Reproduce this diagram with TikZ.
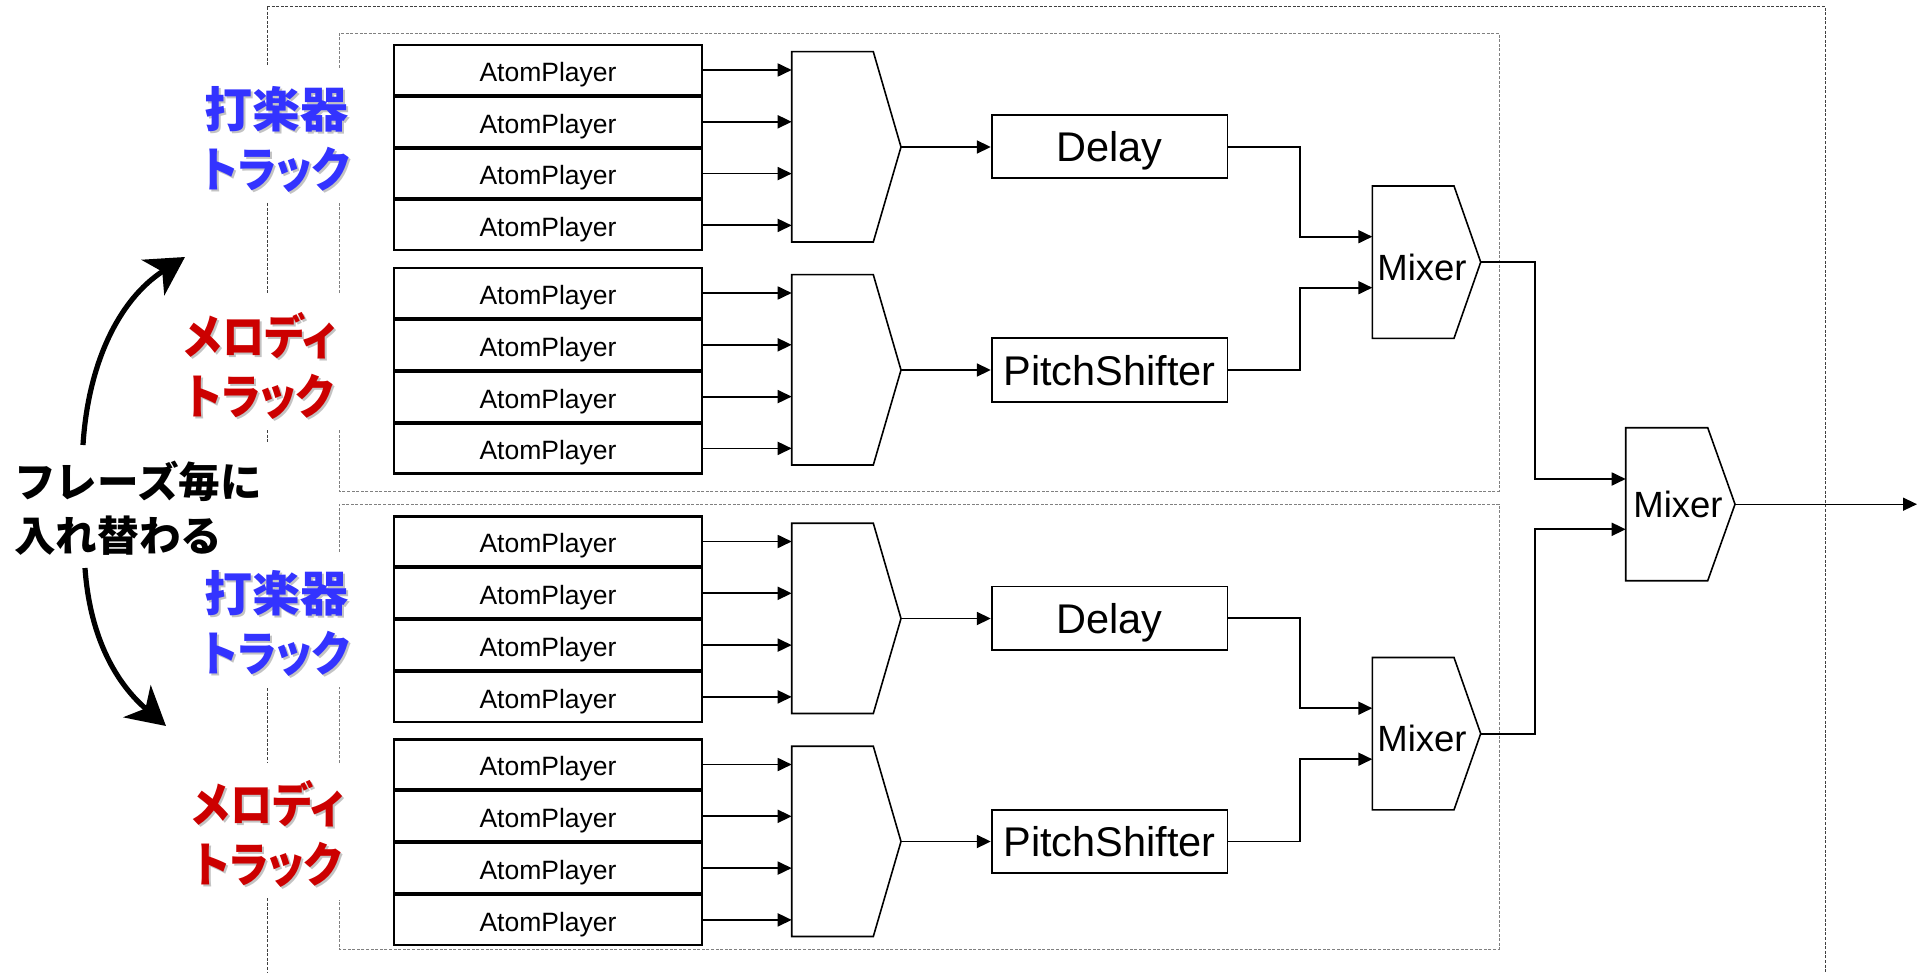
\documentclass[tikz,border=0pt]{standalone}
\usepackage{graphicx}
\usepackage{fontspec}
\setmainfont{Liberation Sans}
\newfontfamily\jp{Noto Sans CJK JP}[RawFeature=+palt]
\newfontfamily\jpw{Noto Sans CJK JP}
\usetikzlibrary{arrows.meta}
\definecolor{jblue}{RGB}{51,51,255}
\definecolor{jred}{RGB}{204,0,0}
\definecolor{jshadow}{RGB}{195,195,195}
\newcommand\kn[1]{\scalebox{0.88}[1]{#1}}
\tikzset{
 ap/.style={draw, line width=1.1pt, minimum width=154pt, minimum height=25pt, inner sep=0pt, text depth=0pt, text height=11.4pt, font=\fontsize{13.25}{15}\selectfont},
 fx/.style={draw, line width=0.9pt, minimum width=117.9pt, minimum height=31.7pt, inner sep=0pt, text depth=0pt, font=\fontsize{20.75}{24}\selectfont},
 mxt/.style={inner sep=0pt, text depth=0pt, font=\fontsize{18.25}{22}\selectfont},
 conn/.style={line width=0.9pt, -{Triangle[length=7pt,width=6.5pt]}},
 mshape/.style={line width=0.8pt, line join=miter},
 dotA/.style={black!75, line width=0.5pt, dash pattern=on 1.5pt off 0.8pt},
 dotB/.style={black!50, line width=0.5pt, dash pattern=on 1.5pt off 0.8pt},
 jlab/.style={inner sep=0pt, align=center, font=\jp\bfseries\fontsize{24}{30}\selectfont},
 bigarrow/.style={line width=2.6pt, -{Stealth[length=19pt,width=21pt,inset=5.5pt]}},
}
\newcommand\apgroup[2]{%
  \foreach \k/\n in {0/a,1/b,2/c,3/d}{
    \node[ap] (#1\n) at (548,{#2+25+51.8*\k}) {AtomPlayer};
  }
  \draw[mshape] (791.7,{#2+6.7}) -- (873.3,{#2+6.7}) -- (901,{#2+102}) -- (873.3,{#2+197}) -- (791.7,{#2+197}) -- cycle;
  \coordinate (#1in) at (791.7,{#2+102});
  \coordinate (#1tip) at (901,{#2+102});
  \foreach \n in {a,b,c,d}{\draw[conn] (#1\n.east) -- (#1\n.east -| #1in);}
}
\begin{document}
\begin{tikzpicture}[x=0.5pt,y=-0.5pt]
\useasboundingbox (0,0) rectangle (1921,973);
% dotted frames
\draw[dotA] (267,7) -- (1825.7,7) -- (1825.7,973);
\draw[dotA] (267,7) -- (267,66) (267,203) -- (267,293) (267,430) -- (267,443) (267,688) -- (267,762) (267,898) -- (267,973);
\draw[dotB] (339,68) -- (339,33.3) -- (1499,33.3) -- (1499,491) -- (339,491) -- (339,430) (339,293) -- (339,203);
\draw[dotB] (339,552) -- (339,504) -- (1499,504) -- (1499,949) -- (339,949) -- (339,900) (339,763) -- (339,687);
% track groups
\apgroup{ga}{45}
\apgroup{gb}{268}
\apgroup{gc}{516.5}
\apgroup{gd}{739.5}
% effects
\node[fx] (d1) at (1109.6,146.7) {Delay};
\node[fx] (p1) at (1109.6,370) {PitchShifter};
\node[fx] (d2) at (1109.6,618.2) {Delay};
\node[fx] (p2) at (1109.6,841.5) {PitchShifter};
\draw[conn] (gatip) -- (gatip -| d1.west);
\draw[conn] (gbtip) -- (gbtip -| p1.west);
\draw[conn] (gctip) -- (gctip -| d2.west);
\draw[conn] (gdtip) -- (gdtip -| p2.west);
% mixer 1
\draw[mshape] (1372.3,186) -- (1454,186) -- (1480.7,262.15) -- (1454,338.3) -- (1372.3,338.3) -- cycle;
\node[mxt] (m1) at (1422,267) {Mixer};
\coordinate (m1i1) at (1372.3,236.7);
\coordinate (m1i2) at (1372.3,287.7);
\coordinate (m1o) at (1480.7,262.15);
% mixer 2
\draw[mshape] (1372.3,657.5) -- (1454,657.5) -- (1480.7,733.65) -- (1454,809.8) -- (1372.3,809.8) -- cycle;
\node[mxt] (m2) at (1422,738.5) {Mixer};
\coordinate (m2i1) at (1372.3,708.2);
\coordinate (m2i2) at (1372.3,759.2);
\coordinate (m2o) at (1480.7,733.65);
% final mixer
\draw[mshape] (1625.7,427.7) -- (1707.7,427.7) -- (1735,504.2) -- (1707.7,580.7) -- (1625.7,580.7) -- cycle;
\node[mxt] (mf) at (1678,504.5) {Mixer};
\coordinate (mfi1) at (1625.7,479);
\coordinate (mfi2) at (1625.7,529.3);
\coordinate (mfo) at (1735,504.2);
\coordinate (outend) at (1917,504.2);
% connections
\draw[conn] (d1.east) -- ++(71.8,0) |- (m1i1);
\draw[conn] (p1.east) -- ++(71.8,0) |- (m1i2);
\draw[conn] (d2.east) -- ++(71.8,0) |- (m2i1);
\draw[conn] (p2.east) -- ++(71.8,0) |- (m2i2);
\draw[conn] (m1o) -- ++(54.3,0) |- (mfi1);
\draw[conn] (m2o) -- ++(54.3,0) |- (mfi2);
\draw[conn, line width=0.7pt] (mfo) -- (outend);
% labels
\node[jlab, text=jshadow] (l1s) at (278,141) {打楽器\\\kn{トラック}};
\node[jlab, text=jblue] (l1) at (276,139) {打楽器\\\kn{トラック}};
\node[jlab, text=jshadow] (l2s) at (262,368) {\kn{メロディ}\\\kn{トラック}};
\node[jlab, text=jred] (l2) at (260,366) {\kn{メロディ}\\\kn{トラック}};
\node[jlab, text=jshadow] (l3s) at (278,625) {打楽器\\\kn{トラック}};
\node[jlab, text=jblue] (l3) at (276,623) {打楽器\\\kn{トラック}};
\node[jlab, text=jshadow] (l4s) at (270,836) {\kn{メロディ}\\\kn{トラック}};
\node[jlab, text=jred] (l4) at (268,834) {\kn{メロディ}\\\kn{トラック}};
\node[inner sep=0pt, align=left, anchor=west, font=\jpw\bfseries\fontsize{20.8}{27}\selectfont] (sw) at (14,508.5) {フレーズ毎に\\入れ替わる};
% swap arrows
\coordinate (ua0) at (83,445);
\coordinate (ua1) at (185,257);
\draw[bigarrow] (ua0) .. controls (88,365) and (118,300) .. (ua1);
\coordinate (da0) at (85,568);
\coordinate (da1) at (166,726);
\draw[bigarrow] (da0) .. controls (90,640) and (118,685) .. (da1);
\end{tikzpicture}
\end{document}
